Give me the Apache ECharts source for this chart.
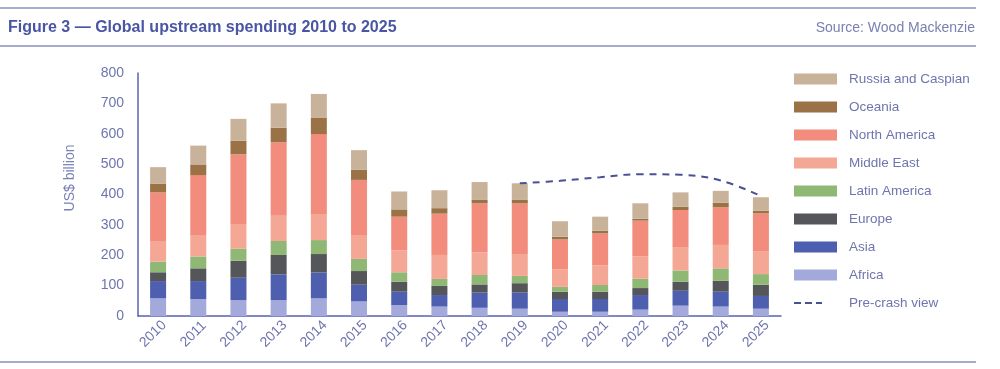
<!DOCTYPE html>
<html><head><meta charset="utf-8">
<script src="https://cdn.jsdelivr.net/npm/echarts@6/dist/echarts.min.js"></script>
<style>html,body{margin:0;padding:0;background:#fff}#c{width:1000px;height:369px}</style>
</head><body><div id="c"></div>
<script>
const years = ['2010','2011','2012','2013','2014','2015','2016','2017','2018','2019','2020','2021','2022','2023','2024','2025'];
const africa  = [58,56,52,52,58,48,36,31,27,24,14,14,21,34,31,24];
const asia    = [57,59,74,85,85,55,44,38,50,53,42,42,48,49,49,42];
const europe  = [29,42,56,64,61,45,33,30,27,31,24,24,23,30,36,37];
const latinAmerica = [35,39,40,46,46,40,31,23,31,24,16,22,31,37,41,35];
const middleEast   = [68,68,81,83,83,76,72,79,75,72,58,65,73,75,77,74];
const northAmerica = [160,200,229,242,266,184,111,136,161,167,98,105,118,124,124,126];
const oceania = [29,35,45,48,53,33,24,18,11,11,9,9,6,11,15,9];
const russiaCaspian = [54,62,72,80,79,65,59,59,59,55,51,46,51,47,39,44];
const preCrash = [null,null,null,null,null,null,null,null,null,437,445,457,467,465,446,395];
const yTicks = [0,100,200,300,400,500,600,700,800];

const txt = '#6f75ad';
const font = 'Liberation Sans';
const lineColor = '#4a5192';
const barSeries = [
  ['Africa', africa, '#a3a9db'],
  ['Asia', asia, '#4f5fb0'],
  ['Europe', europe, '#545659'],
  ['Latin America', latinAmerica, '#8fb874'],
  ['Middle East', middleEast, '#f5a796'],
  ['North America', northAmerica, '#f28c7c'],
  ['Oceania', oceania, '#9a7246'],
  ['Russia and Caspian', russiaCaspian, '#c9b29a']
].map(([name, data, color]) => ({
  name, type: 'bar', stack: 'total', data, barWidth: 16,
  itemStyle: {color}, emphasis: {disabled: true}
}));

const chart = echarts.init(document.getElementById('c'), null, {renderer: 'canvas'});
chart.setOption({
  animation: false,
  textStyle: {fontFamily: font},
  title: [
    {text: 'Figure 3 — Global upstream spending 2010 to 2025', left: 8, top: 20, padding: 0,
     textStyle: {color: '#4a55a3', fontSize: 16, fontWeight: 'bold', fontFamily: font}},
    {text: 'Source: Wood Mackenzie', right: 25, top: 21, padding: 0,
     textStyle: {color: '#7a80b0', fontSize: 14, fontWeight: 'normal', fontFamily: font}}
  ],
  graphic: [
    {type: 'line', shape: {x1: 0, y1: 8, x2: 976, y2: 8}, style: {stroke: '#8a8fc0', lineWidth: 1.5}},
    {type: 'line', shape: {x1: 0, y1: 46, x2: 976, y2: 46}, style: {stroke: '#8a8fc0', lineWidth: 1.5}},
    {type: 'line', shape: {x1: 0, y1: 362, x2: 976, y2: 362}, style: {stroke: '#8a8fc0', lineWidth: 1.5}},
    {type: 'text', x: 70, y: 178, rotation: Math.PI / 2,
     style: {text: 'US$ billion', fill: '#7a80b8', font: '14px "Liberation Sans"', align: 'center', verticalAlign: 'middle'}}
  ],
  legend: [
    {orient: 'vertical', left: 794, top: 71, padding: 0, itemWidth: 43, itemHeight: 11, itemGap: 12,
     icon: 'rect',
     data: ['Russia and Caspian','Oceania','North America','Middle East','Latin America','Europe','Asia','Africa'],
     textStyle: {color: txt, fontSize: 13.5, fontFamily: font, lineHeight: 16, padding: [0,0,0,7]},
     selectedMode: false},
    {orient: 'vertical', left: 794, top: 295, padding: 0, itemWidth: 28, itemHeight: 2.5,
     data: [{name: 'Pre-crash view',
             icon: 'path://M0,0h7v2h-7z M11,0h7v2h-7z M22,0h6v2h-6z',
             itemStyle: {color: lineColor}}],
     textStyle: {color: txt, fontSize: 13.5, fontFamily: font, lineHeight: 16, padding: [0,0,0,22]},
     selectedMode: false}
  ],
  grid: {left: 138, right: 219, top: 73, bottom: 53, containLabel: false},
  xAxis: {
    type: 'category', data: years,
    axisLine: {lineStyle: {color: '#5a62b0', width: 1.5}},
    axisTick: {show: false},
    axisLabel: {color: txt, fontSize: 14, rotate: 45, margin: 23, align: 'center', verticalAlign: 'bottom', fontFamily: font}
  },
  yAxis: {
    type: 'value', min: yTicks[0], max: yTicks[yTicks.length - 1], interval: 100,
    axisLine: {show: true, lineStyle: {color: '#5a62b0', width: 1.5}},
    axisTick: {show: false},
    splitLine: {show: false},
    axisLabel: {color: txt, fontSize: 14, margin: 14, fontFamily: font}
  },
  series: barSeries.concat([{
    name: 'Pre-crash view', type: 'line', data: preCrash, smooth: 0.4,
    symbol: 'none', connectNulls: false,
    lineStyle: {color: lineColor, width: 2, type: [7, 6]},
    itemStyle: {color: lineColor}
  }])
});
</script></body></html>
